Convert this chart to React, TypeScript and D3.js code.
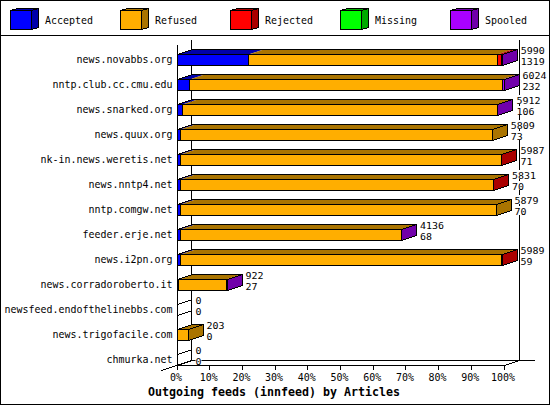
import React from "react";
import * as d3 from "d3";

const hosts = ["news.novabbs.org","nntp.club.cc.cmu.edu","news.snarked.org","news.quux.org","nk-in.news.weretis.net","news.nntp4.net","nntp.comgw.net","feeder.erje.net","news.i2pn.org","news.corradoroberto.it","newsfeed.endofthelinebbs.com","news.trigofacile.com","chmurka.net"];
const totals = [5990,6024,5912,5809,5987,5831,5879,4136,5989,922,0,203,0];
const accepted = [1319,232,106,73,71,70,70,68,59,27,0,0,0];
const refused = [4580,5757,5804,5736,5914,5759,5809,4066,5928,894,0,203,0];
const rejected = [73,5,0,0,2,2,0,0,2,0,0,0,0];
const missing = [0,0,0,0,0,0,0,0,0,0,0,0,0];
const spooled = [18,30,2,0,0,0,0,2,0,1,0,0,0];
const seriesNames = ["Accepted","Refused","Rejected","Missing","Spooled"];
const seriesValues = [accepted,refused,rejected,missing,spooled];
const faceColors = ["#0000ff","#ffae00","#ff0000","#00ff00","#aa00ff"];
const darkColors = ["#0000aa","#aa7400","#aa0000","#00aa00","#7100aa"];
const pctTicks = [0,10,20,30,40,50,60,70,80,90,100];
const title = "Outgoing feeds (innfeed) by Articles";

const W = 550, H = 405;
const DX = 15, DY = 5, BAR_H = 11;
const FONT = "'DejaVu Sans Mono', monospace";

const xPct = d3.scaleLinear().domain([0,100]).range([177,504]);
const xVal = d3.scaleLinear().domain([0,d3.max(totals) as number]).range([177,504]);
const yBar = d3.scalePoint<string>().domain(hosts).range([54,354]);
const xLegend = d3.scalePoint<string>().domain(seriesNames).range([10,450]);

const pts = (p:[number,number][]) => p.map(q=>q.join(",")).join(" ");
const px = (v:number) => Math.floor(v)+0.5;

function T({x,y,text,anchor,size=10.6}:{x:number,y:number,text:string,anchor?:string,size?:number}) {
  return <text x={x} y={y} textAnchor={anchor} fontFamily={FONT} fontSize={size} fill="#000" textLength={text.length*6} lengthAdjust="spacingAndGlyphs">{text}</text>;
}

function Bar({i}:{i:number}) {
  const yT = (yBar(hosts[i]) as number)+0.5, yB = yT+BAR_H;
  const stack = d3.stack<number>().keys(seriesNames.map((_,k)=>String(k)) as any)
    .value((_,k)=>seriesValues[+k][i])([i] as any);
  const segs = stack.map((s,k)=>({k,a:px(xVal(s[0][0])),b:px(xVal(s[0][1])),v:seriesValues[k][i]})).filter(s=>s.v>0);
  const x0 = px(xVal(0)), xe = px(xVal(totals[i]));
  const last = segs.length ? segs[segs.length-1].k : 1;
  return (
    <g>
      <polygon points={pts([[xe,yT],[xe+DX,yT-DY],[xe+DX,yB-DY],[xe,yB]])} fill={darkColors[last]} stroke="none"/>
      {segs.map(s=>(
        <polygon key={"t"+s.k} points={pts([[s.a,yT],[s.a+DX,yT-DY],[s.b+DX,yT-DY],[s.b,yT]])} fill={darkColors[s.k]} stroke="none"/>
      ))}
      {segs.map(s=>(
        <rect key={"f"+s.k} x={s.a} y={yT} width={s.b-s.a} height={BAR_H} fill={faceColors[s.k]} stroke="#000" shapeRendering="crispEdges"/>
      ))}
      <polyline points={pts([[x0,yT],[x0+DX,yT-DY],[xe+DX,yT-DY],[xe+DX,yB-DY],[xe,yB]])} fill="none" stroke="#000" shapeRendering="crispEdges"/>
      <line x1={xe} y1={yT} x2={xe+DX} y2={yT-DY} stroke="#000" shapeRendering="crispEdges"/>
    </g>
  );
}

function Label({x,y,text}:{x:number,y:number,text:string}) {
  return (
    <g>
      <rect x={x} y={y-9} width={text.length*6} height={9} fill="#fff"/>
      <T x={x} y={y} text={text} size={9.4}/>
    </g>
  );
}

export default function App() {
  return (
    <svg width={W} height={H} viewBox={`0 0 ${W} ${H}`} style={{position:"absolute",left:0,top:0,background:"#fff"}}>
      <rect x={0.5} y={0.5} width={W-1} height={H-1} fill="#fff" stroke="#000"/>
      <line x1={0} x2={W} y1={35.5} y2={35.5} stroke="#000"/>
      {seriesNames.map((n,k)=>{
        const x=(xLegend(n) as number)+0.5;
        return (
          <g key={n} shapeRendering="crispEdges">
            <polygon points={pts([[x,10.5],[x+7,8.5],[x+28,8.5],[x+21,10.5]])} fill={darkColors[k]} stroke="#000"/>
            <polygon points={pts([[x+21,10.5],[x+28,8.5],[x+28,27.5],[x+21,29.5]])} fill={darkColors[k]} stroke="#000"/>
            <rect x={x} y={10.5} width={21} height={19} fill={faceColors[k]} stroke="#000"/>
            <T x={x+34.5} y={24} text={n}/>
          </g>
        );
      })}
      <g stroke="#000" shapeRendering="crispEdges">
        <line x1={177.5} x2={177.5} y1={45} y2={365}/>
        <line x1={191.5} x2={191.5} y1={40} y2={360}/>
        <line x1={519.5} x2={519.5} y1={40} y2={360}/>
        <line x1={177} x2={505} y1={365.5} y2={365.5}/>
        <line x1={192} x2={535} y1={360.5} y2={360.5}/>
        <line x1={161.5} y1={370.5} x2={191.5} y2={360.5}/>
        <line x1={504.5} y1={365.5} x2={519.5} y2={360.5}/>
      </g>
      {pctTicks.map(t=>(
        <g key={t}>
          <line x1={px(xPct(t))} x2={px(xPct(t))} y1={365} y2={370} stroke="#000" shapeRendering="crispEdges"/>
          <T x={xPct(t)-1} y={381} anchor="middle" text={t+"%"}/>
        </g>
      ))}
      {hosts.map((h,i)=>{
        const y=yBar(h) as number;
        return (
          <g key={h}>
            <T x={172.5} y={y+9} anchor="end" text={h}/>
            {totals[i]===0 && <g shapeRendering="crispEdges">
              <line x1={177.5} y1={y+0.5} x2={192.5} y2={y-4.5} stroke="#000"/>
              <line x1={177.5} y1={y+11.5} x2={192.5} y2={y+6.5} stroke="#000"/>
            </g>}
            {totals[i]>0 && <Bar i={i}/>}
          </g>
        );
      })}
      {hosts.map((h,i)=>{
        const y=yBar(h) as number;
        const lx=xVal(totals[i])+DX+3.5;
        return (
          <g key={h+"v"}>
            <Label x={lx} y={y} text={String(totals[i])}/>
            <Label x={lx} y={y+11} text={String(accepted[i])}/>
          </g>
        );
      })}
      <text x={148} y={396} fontFamily={FONT} fontSize={11.6} fontWeight="bold" fill="#000" textLength={title.length*7} lengthAdjust="spacingAndGlyphs">{title}</text>
    </svg>
  );
}
